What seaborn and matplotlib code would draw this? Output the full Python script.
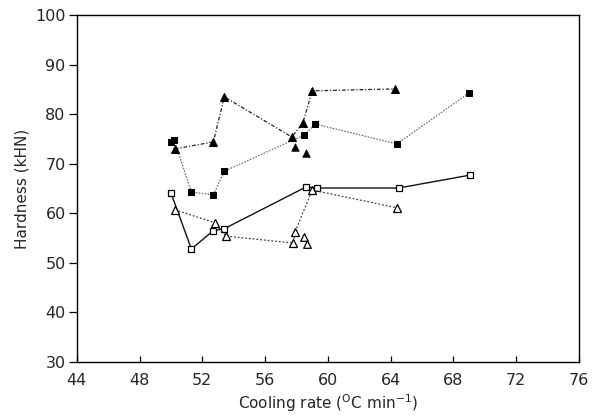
import matplotlib
matplotlib.use("Agg")
import matplotlib.pyplot as plt
import seaborn as sns
import numpy as np

# Hardness vs cooling rate, four sample series
sq_filled_x = [50.0, 50.2, 51.3, 52.7, 53.4, 58.5, 59.2, 64.4, 69.0]
sq_filled_y = [74.4, 74.8, 64.3, 63.7, 68.5, 75.8, 78.0, 74.0, 84.3]

tri_filled_x = [50.25, 52.7, 53.4, 57.7, 58.4, 59.0, 64.3]
tri_filled_y = [73.0, 74.4, 83.5, 75.4, 78.2, 84.7, 85.1]
tri_filled_extra_x = [57.9, 58.6]
tri_filled_extra_y = [73.4, 72.2]

sq_open_x = [50.0, 51.3, 52.7, 53.4, 58.6, 59.3, 64.5, 69.05]
sq_open_y = [64.1, 52.8, 56.5, 56.9, 65.3, 65.1, 65.1, 67.7]

tri_open_x = [50.25, 52.8, 53.5, 57.8, 57.9, 59.0, 64.4]
tri_open_y = [60.7, 58.1, 55.4, 54.0, 56.2, 64.7, 61.1]
tri_open_extra_x = [58.5, 58.7]
tri_open_extra_y = [55.2, 53.8]

x_ticks = list(range(44, 77, 4))
y_ticks = list(range(30, 101, 10))

sns.set_style("white")
plt.rcParams["font.family"] = ["DejaVu Sans"]
plt.rcParams["mathtext.default"] = "regular"

fig = plt.figure(figsize=(6.0, 4.18), dpi=100)
ax = fig.add_axes([0.128, 0.134, 0.837, 0.830])

common = dict(ax=ax, sort=False, estimator=None, legend=False)

sns.lineplot(x=sq_filled_x, y=sq_filled_y, color="#666666", lw=0.9,
             linestyle=(0, (1.2, 1.2)), marker="s", markersize=5,
             markerfacecolor="black", markeredgecolor="black", **common)
sns.lineplot(x=tri_filled_x, y=tri_filled_y, color="#222222", lw=0.9,
             linestyle=(0, (3, 1.5, 1, 1.5)), marker="^", markersize=5.5,
             markerfacecolor="black", markeredgecolor="black", **common)
sns.lineplot(x=sq_open_x, y=sq_open_y, color="#111111", lw=1.0,
             linestyle="-", marker="s", markersize=5,
             markerfacecolor="white", markeredgecolor="black",
             markeredgewidth=0.9, **common)
sns.lineplot(x=tri_open_x, y=tri_open_y, color="#444444", lw=0.9,
             linestyle=(0, (1.5, 1.5)), marker="^", markersize=5.5,
             markerfacecolor="white", markeredgecolor="black",
             markeredgewidth=0.9, **common)

sns.scatterplot(x=tri_filled_extra_x, y=tri_filled_extra_y, ax=ax, marker="^",
                s=30, color="black", edgecolor="black", linewidth=0.5, legend=False)
sns.scatterplot(x=tri_open_extra_x, y=tri_open_extra_y, ax=ax, marker="^",
                s=30, facecolor="white", edgecolor="black", linewidth=0.9,
                legend=False)

ax.set_xlim(44, 76)
ax.set_ylim(30, 100)
ax.set_xticks(x_ticks)
ax.set_xticks(list(range(44, 77, 2)), minor=True)
ax.set_yticks(y_ticks)
ax.tick_params(axis="x", which="both", direction="in", length=4, width=0.9,
               color="black", labelsize=11.5, pad=8)
ax.tick_params(axis="y", which="major", direction="out", length=6, width=0.9,
               color="black", labelsize=11.5, pad=2)
ax.tick_params(left=True, bottom=True)
for s in ax.spines.values():
    s.set_visible(True)
    s.set_color("black")
    s.set_linewidth(1.0)

ax.set_xlabel("Cooling rate ($^{\\mathrm{O}}$C min$^{-1}$)", fontsize=11, labelpad=3)
ax.set_ylabel("Hardness (kHN)", fontsize=11, labelpad=4)

fig.savefig("out.png", dpi=100)
